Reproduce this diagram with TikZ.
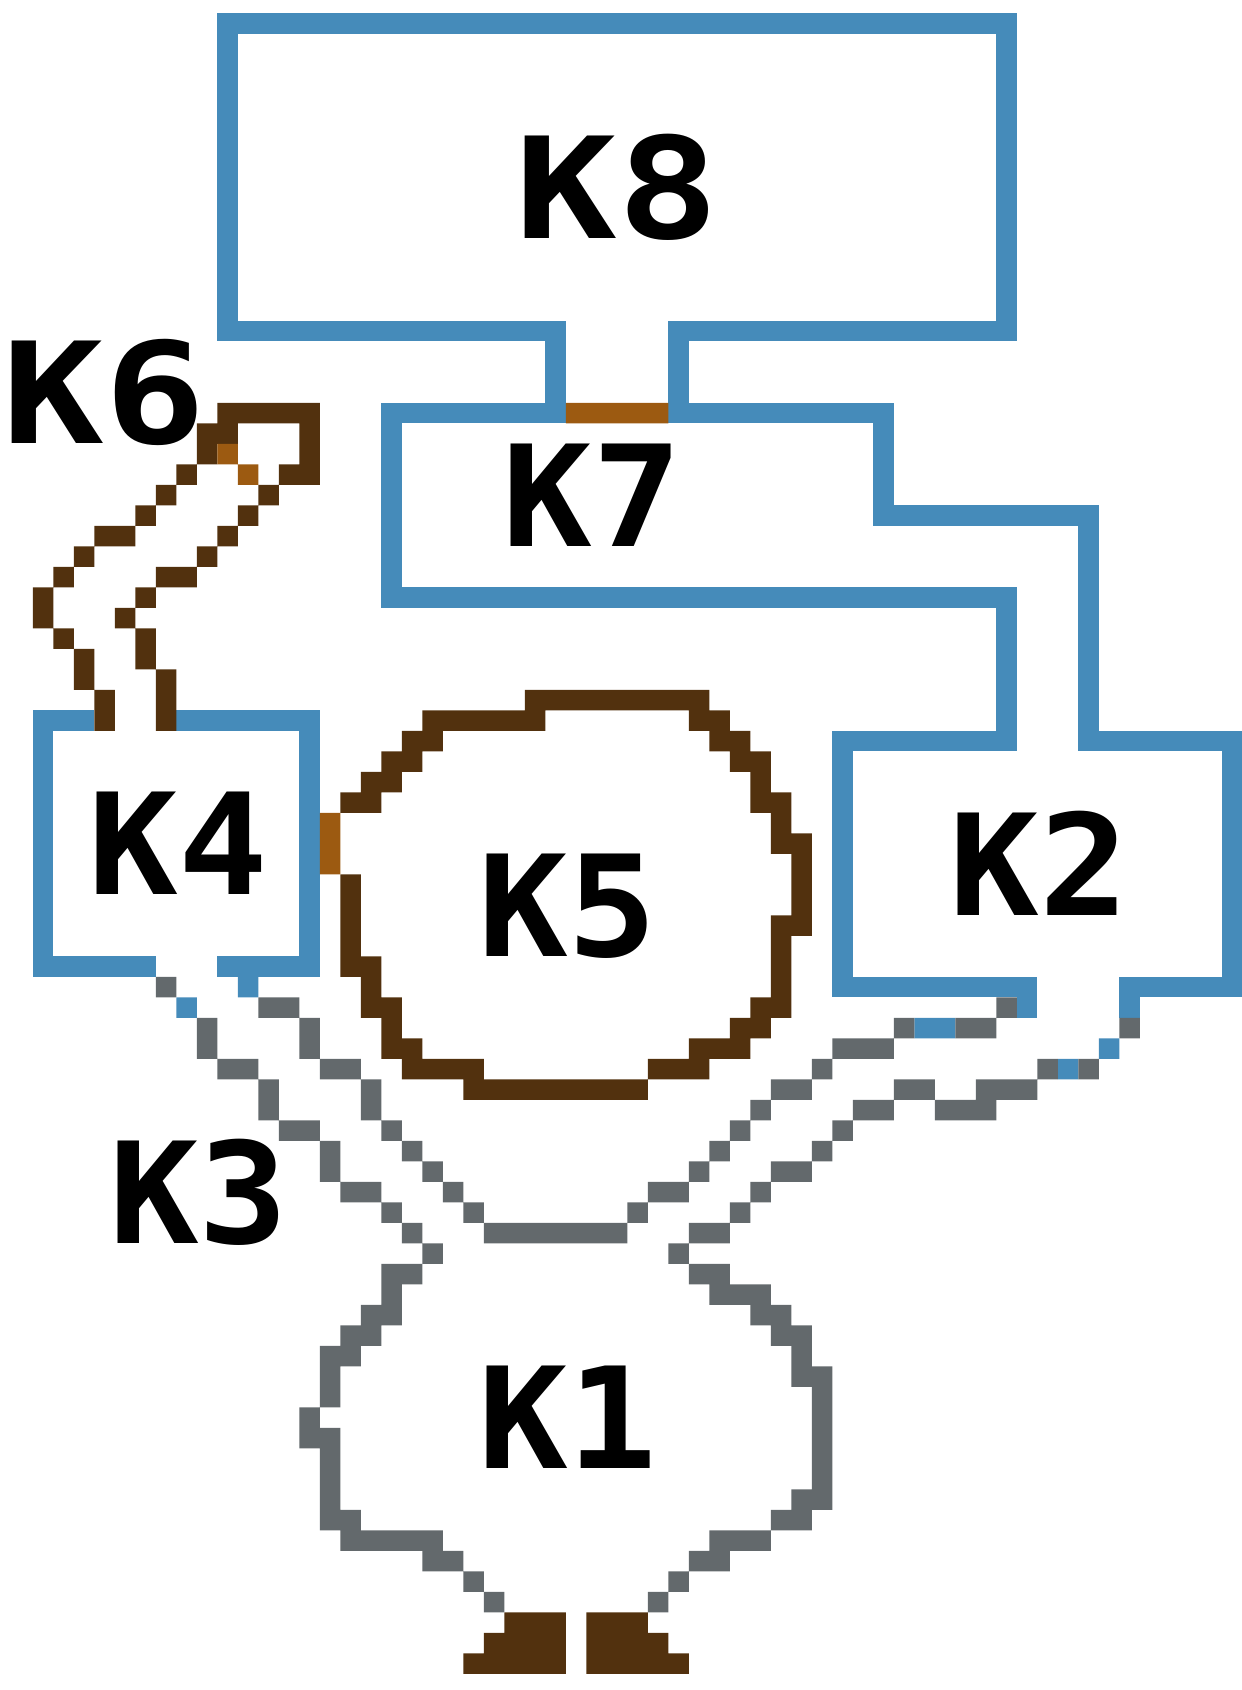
\documentclass[tikz,border=0pt]{standalone}
\usepackage{fontspec}
\newfontfamily\pixfont{DejaVu Sans Mono}
\definecolor{kblue}{RGB}{69,139,186}
\definecolor{kbrown}{RGB}{82,49,14}
\definecolor{korange}{RGB}{156,90,17}
\definecolor{kgray}{RGB}{99,105,108}
\tikzset{
  wall/.style={draw=kblue,line width=0.5cm,line cap=rect,line join=miter},
  klabel/.style={anchor=base,inner sep=0pt,text=black,font=\pixfont\bfseries\fontsize{97.6}{100}\selectfont},
}
\newcommand{\pixruns}[2]{\fill[#1] \foreach \a/\b/\c/\d in {#2} {(\a,\b) rectangle ++(\c,\d)};}
\newcommand{\widelab}[1]{\scalebox{1.2}[1]{#1}}
\newcommand{\narrowlab}[1]{\scalebox{1.06}[1]{#1}}
\begin{document}
\begin{tikzpicture}[x=0.5cm,y=-0.5cm]
\useasboundingbox (-0.6,-0.65) rectangle (59.94,81.79);
% ---- blue walls ----
\draw[wall] (26.5,19.5) -- (26.5,15.5) -- (10.5,15.5) -- (10.5,0.5) -- (48.5,0.5) -- (48.5,15.5) -- (32.5,15.5) -- (32.5,19.5);
\draw[wall] (26.5,19.5) -- (18.5,19.5) -- (18.5,28.5) -- (48.5,28.5) -- (48.5,35.5) -- (40.5,35.5) -- (40.5,47.5) -- (49.5,47.5) -- (49.5,48.5);
\draw[wall] (32.5,19.5) -- (42.5,19.5) -- (42.5,24.5) -- (52.5,24.5) -- (52.5,35.5) -- (59.5,35.5) -- (59.5,47.5) -- (54.5,47.5) -- (54.5,48.5);
\draw[wall] (3.5,34.5) -- (1.5,34.5) -- (1.5,46.5) -- (6.5,46.5);
\draw[wall] (8.5,34.5) -- (14.5,34.5) -- (14.5,46.5) -- (10.5,46.5);
\pixruns{kblue}{11/47/1/1, 8/48/1/1, 44/49/2/1, 53/50/1/1, 51/51/1/1}
% ---- gray lines ----
\pixruns{kgray}{7/47/1/1, 9/49/1/2, 10/51/2/1, 12/52/1/2, 13/54/2/1, 15/55/1/2, 16/57/2/1, 18/58/1/1, 19/59/1/1, 20/60/1/1}
\pixruns{kgray}{12/48/2/1, 14/49/1/2, 15/51/2/1, 17/52/1/2, 18/54/1/1, 19/55/1/1, 20/56/1/1, 21/57/1/1, 22/58/1/1, 23/59/7/1, 30/58/1/1, 31/57/2/1, 33/56/1/1, 34/55/1/1, 35/54/1/1, 36/53/1/1, 37/52/2/1, 39/51/1/1, 40/50/3/1, 43/49/1/1, 46/49/2/1, 48/48/1/1}
\pixruns{kgray}{54/49/1/1, 52/51/1/1, 50/51/1/1, 47/52/3/1, 45/53/3/1, 43/52/2/1, 41/53/2/1, 40/54/1/1, 39/55/1/1, 37/56/2/1, 36/57/1/1, 35/58/1/1, 33/59/2/1, 32/60/1/1}
% K1 outline
\pixruns{kgray}{18/61/2/1, 18/62/1/1, 17/63/2/1, 16/64/2/1, 15/65/2/1, 15/66/1/2, 14/68/1/2, 15/69/1/5, 16/73/1/1, 16/74/5/1, 20/75/2/1, 22/76/1/1, 23/77/1/1}
\pixruns{kgray}{33/61/2/1, 34/62/3/1, 36/63/2/1, 37/64/2/1, 38/65/1/2, 39/66/1/7, 38/72/1/1, 37/73/2/1, 34/74/3/1, 33/75/2/1, 32/76/1/1, 31/77/1/1}
% ---- brown ----
\pixruns{kbrown}{24/78/3/1, 23/79/4/1, 22/80/5/1, 28/78/3/1, 28/79/4/1, 28/80/5/1}
\pixruns{kbrown}{25/33/9/1, 20/34/6/1, 33/34/2/1, 19/35/2/1, 34/35/2/1, 18/36/2/1, 35/36/2/1, 17/37/2/1, 36/37/1/1, 16/38/2/1, 36/38/2/1, 37/39/1/1, 37/40/2/1, 38/41/1/3, 37/44/2/1, 37/45/1/4, 36/48/1/1, 35/49/2/1, 33/50/3/1, 31/51/3/1, 22/52/9/1, 16/42/1/5, 17/46/1/3, 18/48/1/3, 19/50/1/2, 20/51/3/1}
\pixruns{kbrown}{10/19/5/1, 9/20/2/1, 14/20/1/3, 9/21/1/1, 8/22/1/1, 13/22/1/1, 7/23/1/1, 12/23/1/1, 6/24/1/1, 11/24/1/1, 4/25/2/1, 10/25/1/1, 3/26/1/1, 9/26/1/1, 2/27/1/1, 7/27/2/1, 1/28/1/2, 6/28/1/1, 5/29/1/1, 2/30/1/1, 6/30/1/2, 3/31/1/2, 7/32/1/3, 4/33/1/2}
% ---- orange shared borders ----
\pixruns{korange}{27/19/5/1, 15/39/1/3, 10/21/1/1, 11/22/1/1}
% ---- labels ----
\node[klabel] (k8) at (29.5,11) {\widelab{K8}};
\node[klabel] (k6) at (4.5,21) {\widelab{K6}};
\node[klabel] (k7) at (28.3,26) {\narrowlab{K7}};
\node[klabel] (k4) at (8.1,43) {\narrowlab{K4}};
\node[klabel] (k5) at (27.1,46) {\narrowlab{K5}};
\node[klabel] (k2) at (50.1,44) {\narrowlab{K2}};
\node[klabel] (k3) at (9.1,60) {\narrowlab{K3}};
\node[klabel] (k1) at (27.1,71) {\narrowlab{K1}};
\end{tikzpicture}
\end{document}
